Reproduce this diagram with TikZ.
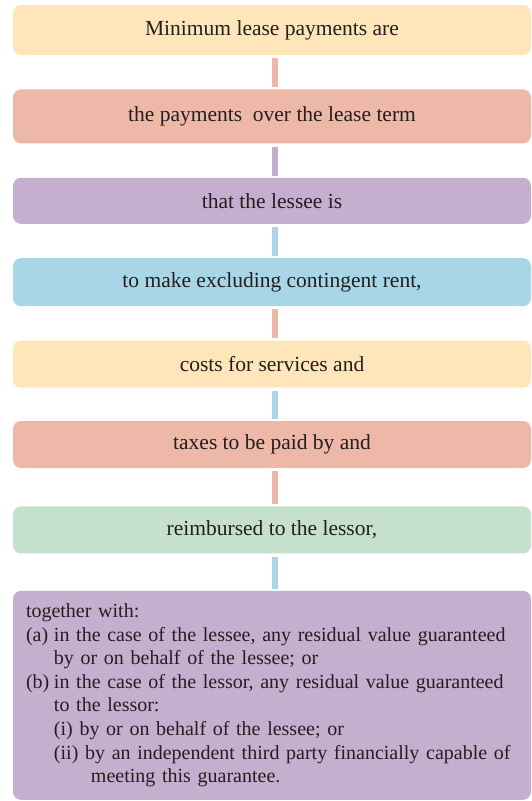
\documentclass[tikz,border=0pt]{standalone}
\usepackage{fontspec}
\setmainfont{Liberation Serif}
\usetikzlibrary{positioning}
\definecolor{boxyellow}{HTML}{FEE6BA}
\definecolor{boxsalmon}{HTML}{EDB8A8}
\definecolor{boxpurple}{HTML}{C6AECE}
\definecolor{boxblue}{HTML}{A8D6E6}
\definecolor{boxgreen}{HTML}{C6E1CB}
\definecolor{textdark}{HTML}{231F20}
\tikzset{
  stepbox/.style={rounded corners=8pt, fill=#1, text=textdark, minimum width=518pt,
    minimum height=47pt, inner sep=0pt, font=\fontsize{21.5}{23.5}\selectfont},
  link/.style={line width=6pt, draw=#1, shorten <=3pt, shorten >=2pt},
}

\begin{document}
\begin{tikzpicture}[x=1pt,y=1pt,node distance=34pt]
\useasboundingbox (0,0) rectangle (532,-801);
\node[stepbox=boxyellow, minimum height=50pt] (b1) at (272,-30) {Minimum lease payments are};
\node[stepbox=boxsalmon, minimum height=54pt, below=of b1] (b2) {the payments~ over the lease term};
\node[stepbox=boxpurple, minimum height=46pt, below=of b2] (b3) {that the lessee is};
\node[stepbox=boxblue, minimum height=48pt, below=of b3] (b4) {to make excluding contingent rent,};
\node[stepbox=boxyellow, below=of b4] (b5) {costs for services and};
\node[stepbox=boxsalmon, below=33pt of b5] (b6) {taxes to be paid by and};
\node[stepbox=boxgreen, below=38pt of b6] (b7) {reimbursed to the lessor,};
\node[stepbox=boxpurple, below=37pt of b7, minimum height=209pt, text width=492pt,
  inner xsep=13pt, align=left, font=\fontsize{20}{23.6}\selectfont] (b8) {\mbox{together with:}\\
\mbox{\makebox[28pt][l]{(a)}in the case of the lessee, any residual value guaranteed}\\
\mbox{\hspace*{28pt}by or on behalf of the lessee; or}\\
\mbox{\makebox[28pt][l]{(b)}in the case of the lessor, any residual value guaranteed}\\
\mbox{\hspace*{28pt}to the lessor:}\\
\mbox{\hspace*{28pt}(i) by or on behalf of the lessee; or}\\
\mbox{\hspace*{28pt}(ii) by an independent third party financially capable of}\\
\mbox{\hspace*{65pt}meeting this guarantee.}};
% connectors
\draw[link=boxsalmon] ([xshift=3pt]b1.south) -- ([xshift=3pt]b2.north);
\draw[link=boxpurple] ([xshift=3pt]b2.south) -- ([xshift=3pt]b3.north);
\draw[link=boxblue] ([xshift=3pt]b3.south) -- ([xshift=3pt]b4.north);
\draw[link=boxsalmon] ([xshift=3pt]b4.south) -- ([xshift=3pt]b5.north);
\draw[link=boxblue] ([xshift=3pt]b5.south) -- ([xshift=3pt]b6.north);
\draw[link=boxsalmon] ([xshift=3pt]b6.south) -- ([xshift=3pt]b7.north);
\draw[link=boxblue] ([xshift=3pt]b7.south) -- ([xshift=3pt]b8.north);
\end{tikzpicture}
\end{document}
